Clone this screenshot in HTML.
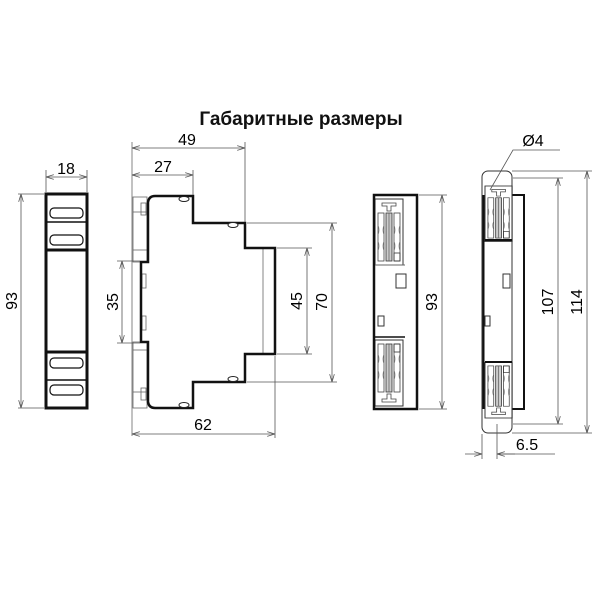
<!DOCTYPE html>
<html><head><meta charset="utf-8"><style>
html,body{margin:0;padding:0;background:#fff;}
svg{display:block;font-family:"Liberation Sans",Arial,sans-serif;}
</style></head><body>
<svg width="600" height="600" viewBox="0 0 600 600" xmlns="http://www.w3.org/2000/svg">
<defs>
<marker id="a" viewBox="0 0 10 6" refX="10" refY="3" markerWidth="8" markerHeight="5" orient="auto-start-reverse" markerUnits="userSpaceOnUse">
<path d="M0,0 L10,3 L0,6" fill="none" stroke="#555" stroke-width="1"/></marker>
<g id="tb">
<rect x="0" y="0" width="28" height="66" fill="none" stroke="#333" stroke-width="1"/>
<path d="M7,4 h14 v3 h-5 v5 h-4 v-5 h-5z" fill="none" stroke="#444" stroke-width="0.8"/>
<rect x="3" y="14" width="6" height="48" fill="none" stroke="#444" stroke-width="0.8"/>
<path d="M3,26 q2,5 0,10 M3,42 q2,5 0,10 M9,26 q-2,5 0,10 M9,42 q-2,5 0,10" fill="none" stroke="#777" stroke-width="0.7"/>
<rect x="11" y="14" width="6" height="48" fill="#ccc" stroke="#333" stroke-width="0.8"/>
<line x1="14" y1="14" x2="14" y2="62" stroke="#666" stroke-width="0.8"/>
<rect x="19" y="14" width="6" height="48" fill="none" stroke="#444" stroke-width="0.8"/>
<path d="M19,26 q2,5 0,10 M19,42 q2,5 0,10 M25,26 q-2,5 0,10 M25,42 q-2,5 0,10" fill="none" stroke="#777" stroke-width="0.7"/>
<rect x="19" y="54" width="6" height="8" fill="none" stroke="#333" stroke-width="0.8"/>
</g>
</defs>

<text x="301" y="125" font-size="19" font-weight="bold" text-anchor="middle" fill="#111">Габаритные размеры</text>

<!-- Front view -->
<g stroke="#111" fill="none">
<rect x="46" y="194" width="41" height="214" stroke-width="3"/>
<line x1="46" y1="222" x2="87" y2="222" stroke-width="1.5"/>
<line x1="46" y1="250" x2="87" y2="250" stroke-width="3"/>
<line x1="46" y1="352" x2="87" y2="352" stroke-width="3"/>
<line x1="46" y1="380" x2="87" y2="380" stroke-width="1.5"/>
<rect x="50" y="208" width="33" height="10" rx="4" stroke-width="1.2"/>
<rect x="50" y="235" width="33" height="10" rx="4" stroke-width="1.2"/>
<rect x="50" y="358" width="33" height="10" rx="4" stroke-width="1.2"/>
<rect x="50" y="385" width="33" height="10" rx="4" stroke-width="1.2"/>
</g>
<g stroke="#555" stroke-width="0.8" fill="none">
<line x1="46" y1="170" x2="46" y2="192"/><line x1="87" y1="170" x2="87" y2="192"/>
<line x1="46" y1="177" x2="87" y2="177" marker-start="url(#a)" marker-end="url(#a)"/>
<line x1="18" y1="194" x2="44" y2="194"/><line x1="18" y1="408" x2="44" y2="408"/>
<line x1="21" y1="194" x2="21" y2="408" marker-start="url(#a)" marker-end="url(#a)"/>
</g>
<text x="66" y="174" font-size="16" text-anchor="middle">18</text>
<text transform="translate(17,301) rotate(-90)" font-size="16" text-anchor="middle">93</text>

<!-- Side view -->
<g stroke="#666" fill="none" stroke-width="0.8">
<line x1="132" y1="142" x2="132" y2="436"/>
<rect x="133" y="197" width="14" height="65"/>
<rect x="133" y="342" width="14" height="66"/>
<line x1="133" y1="212" x2="147" y2="212"/><line x1="133" y1="250" x2="147" y2="250"/>
<line x1="133" y1="350" x2="147" y2="350"/><line x1="133" y1="392" x2="147" y2="392"/>
<rect x="141" y="203" width="5" height="12"/><rect x="141" y="388" width="5" height="12"/>
<line x1="263" y1="248" x2="263" y2="354"/>
<rect x="142" y="274" width="4" height="14"/><rect x="142" y="316" width="4" height="14"/>
</g>
<path d="M148,262 L148,202 Q149,196 155,196 L193,196 L193,223 L245,223 L245,248 L275,248 L275,354 L245,354 L245,382 L193,382 L193,408 L155,408 Q149,408 148,402 L148,342 L141,342 L141,262 Z" fill="none" stroke="#111" stroke-width="2.5"/>
<g fill="#fff" stroke="#222" stroke-width="1">
<ellipse cx="184" cy="199" rx="5" ry="2.5"/><ellipse cx="233" cy="225" rx="5" ry="2.5"/>
<ellipse cx="233" cy="379" rx="5" ry="2.5"/><ellipse cx="184" cy="405" rx="5" ry="2.5"/>
</g>
<g stroke="#555" stroke-width="0.8" fill="none">
<line x1="245" y1="142" x2="245" y2="222"/><line x1="193" y1="170" x2="193" y2="195"/>
<line x1="132" y1="148" x2="245" y2="148" marker-start="url(#a)" marker-end="url(#a)"/>
<line x1="132" y1="175" x2="193" y2="175" marker-start="url(#a)" marker-end="url(#a)"/>
<line x1="275" y1="356" x2="275" y2="438"/>
<line x1="132" y1="434" x2="275" y2="434" marker-start="url(#a)" marker-end="url(#a)"/>
<line x1="277" y1="248" x2="312" y2="248"/><line x1="277" y1="354" x2="312" y2="354"/>
<line x1="307" y1="248" x2="307" y2="354" marker-start="url(#a)" marker-end="url(#a)"/>
<line x1="247" y1="223" x2="337" y2="223"/><line x1="247" y1="382" x2="337" y2="382"/>
<line x1="332" y1="223" x2="332" y2="382" marker-start="url(#a)" marker-end="url(#a)"/>
<line x1="117" y1="261" x2="140" y2="261"/><line x1="117" y1="343" x2="140" y2="343"/>
<line x1="122" y1="261" x2="122" y2="343" marker-start="url(#a)" marker-end="url(#a)"/>
</g>
<text x="187" y="145" font-size="16" text-anchor="middle">49</text>
<text x="163" y="172" font-size="16" text-anchor="middle">27</text>
<text x="203" y="430" font-size="16" text-anchor="middle">62</text>
<text transform="translate(302,301) rotate(-90)" font-size="16" text-anchor="middle">45</text>
<text transform="translate(327,302) rotate(-90)" font-size="16" text-anchor="middle">70</text>
<text transform="translate(118,302) rotate(-90)" font-size="16" text-anchor="middle">35</text>

<!-- Back view -->
<use href="#tb" x="375" y="199"/>
<use href="#tb" transform="translate(375,406) scale(1,-1)"/>
<rect x="374" y="195" width="43" height="214" fill="none" stroke="#111" stroke-width="2.5"/>
<line x1="375" y1="265" x2="405" y2="265" stroke="#666" stroke-width="1"/>
<line x1="375" y1="337" x2="405" y2="337" stroke="#111" stroke-width="1.5"/>
<rect x="396" y="274" width="10" height="14" fill="none" stroke="#333" stroke-width="1"/>
<rect x="378" y="316" width="6" height="10" fill="none" stroke="#333" stroke-width="1"/>
<g stroke="#555" stroke-width="0.8" fill="none">
<line x1="419" y1="195" x2="447" y2="195"/><line x1="419" y1="409" x2="447" y2="409"/>
<line x1="442" y1="195" x2="442" y2="409" marker-start="url(#a)" marker-end="url(#a)"/>
</g>
<text transform="translate(437,302) rotate(-90)" font-size="16" text-anchor="middle">93</text>

<!-- Far right view -->
<path d="M512,195 L524,195 L524,409 L512,409" fill="none" stroke="#111" stroke-width="2"/>
<line x1="483" y1="195" x2="483" y2="409" stroke="#111" stroke-width="3"/>
<rect x="482" y="171" width="30" height="262" rx="6" fill="none" stroke="#333" stroke-width="1"/>
<use href="#tb" transform="translate(485,186) scale(0.97,0.84)"/>
<use href="#tb" transform="translate(485,418) scale(0.97,-0.84)"/>
<line x1="485" y1="240" x2="512" y2="240" stroke="#111" stroke-width="2"/>
<line x1="485" y1="362" x2="512" y2="362" stroke="#111" stroke-width="2"/>
<rect x="503" y="274" width="7" height="14" fill="none" stroke="#333" stroke-width="1"/>
<rect x="485" y="316" width="5" height="10" fill="none" stroke="#333" stroke-width="1"/>
<g stroke="#555" stroke-width="0.8" fill="none">
<path d="M490,190 L513,150 L560,150"/>
<line x1="513" y1="178" x2="563" y2="178"/><line x1="513" y1="424" x2="563" y2="424"/>
<line x1="558" y1="178" x2="558" y2="424" marker-start="url(#a)" marker-end="url(#a)"/>
<line x1="512" y1="171" x2="592" y2="171"/><line x1="512" y1="433" x2="592" y2="433"/>
<line x1="587" y1="171" x2="587" y2="433" marker-start="url(#a)" marker-end="url(#a)"/>
<line x1="482" y1="434" x2="482" y2="459"/><line x1="497" y1="424" x2="497" y2="459"/>
<line x1="465" y1="454" x2="482" y2="454" marker-end="url(#a)"/>
<line x1="515" y1="454" x2="497" y2="454" marker-end="url(#a)"/>
<line x1="497" y1="454" x2="555" y2="454"/>
</g>
<text x="533" y="146" font-size="16" text-anchor="middle">Ø4</text>
<text transform="translate(553,302) rotate(-90)" font-size="16" text-anchor="middle">107</text>
<text transform="translate(582,302) rotate(-90)" font-size="16" text-anchor="middle">114</text>
<text x="527" y="450" font-size="16" text-anchor="middle">6.5</text>
</svg>
</body></html>
